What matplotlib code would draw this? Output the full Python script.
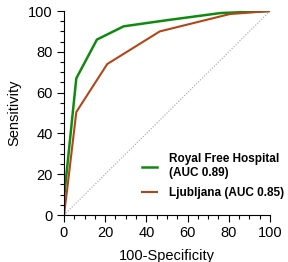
import matplotlib
matplotlib.use('Agg')
import matplotlib.pyplot as plt
from matplotlib.ticker import MultipleLocator

# ROC curve points (x = 100-Specificity, y = Sensitivity)
royal_x = [0, 0, 6, 16, 29, 50, 76, 100]
royal_y = [0, 8, 67, 86, 92.5, 95.5, 99, 100]
ljub_x = [0, 1.5, 6, 21, 46.5, 80.5, 100]
ljub_y = [0, 12, 50.5, 74, 90, 98.5, 100]
royal_label = 'Royal Free Hospital\n(AUC 0.89)'
ljub_label = 'Ljubljana (AUC 0.85)'

plt.rcParams['font.family'] = ['Liberation Sans', 'DejaVu Sans']

fig = plt.figure(figsize=(2.88, 2.62), dpi=100)
ax = fig.add_axes([0.222, 0.179, 0.7155, 0.779])

ax.plot([0, 100], [0, 100], color='#b89aa4', lw=0.8, ls=(0, (1, 1.5)))
ax.plot(royal_x, royal_y, color='#0f8a0f', lw=1.8, label=royal_label)
ax.plot(ljub_x, ljub_y, color='#b0461a', lw=1.5, label=ljub_label)

ax.set_xlim(0, 100)
ax.set_ylim(0, 100)
ax.xaxis.set_major_locator(MultipleLocator(20))
ax.yaxis.set_major_locator(MultipleLocator(20))
ax.xaxis.set_minor_locator(MultipleLocator(5))
ax.yaxis.set_minor_locator(MultipleLocator(5))
ax.tick_params(which='major', length=5, width=0.8, labelsize=10.5, pad=3)
ax.tick_params(which='minor', length=3, width=0.8)
for side in ('top', 'right'):
    ax.spines[side].set_visible(False)
ax.set_xlabel('100-Specificity', fontsize=10.5, labelpad=6)
ax.set_ylabel('Sensitivity', fontsize=10.5, labelpad=5)

leg = ax.legend(loc='lower right', bbox_to_anchor=(1.12, 0.025), frameon=False,
                prop={'weight': 'bold', 'size': 8.5}, handlelength=1.3,
                handletextpad=1.0, labelspacing=0.7)

fig.savefig('out.png', dpi=100)
